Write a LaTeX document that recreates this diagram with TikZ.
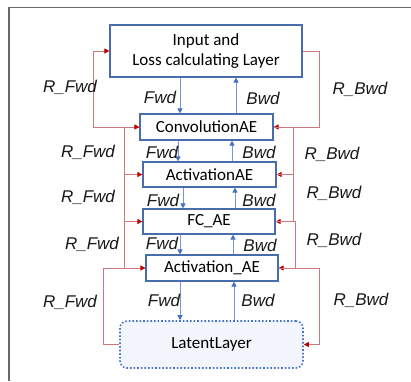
\documentclass[tikz,border=0pt]{standalone}
\usepackage{fontspec}
\setmainfont{Carlito}
\newfontfamily\labfont{Liberation Sans}
\usetikzlibrary{arrows.meta}
\definecolor{boxblue}{RGB}{72,108,172}
\definecolor{redline}{RGB}{204,120,124}
\definecolor{redhead}{RGB}{192,0,0}
\definecolor{blueline}{RGB}{120,150,210}
\definecolor{bluehead}{RGB}{68,114,196}
\definecolor{latfill}{RGB}{242,245,251}
\definecolor{framegray}{RGB}{105,105,105}
\tikzset{
  layer/.style={draw=boxblue,line width=1.2pt,fill=white,inner sep=0pt,font=\fontsize{17}{20}\selectfont,align=center},
  latent/.style={draw=bluehead,line width=1.6pt,dotted,fill=latfill,rounded corners=7pt,inner sep=0pt,font=\fontsize{17}{20}\selectfont},
  fwdarrow/.style={draw=blueline,line width=0.9pt,-{Triangle[length=5pt,width=5pt,color=bluehead]}},
  rarrow/.style={draw=redline,line width=0.9pt,-{Triangle[length=5pt,width=5pt,color=redhead]}},
  rline/.style={draw=redline,line width=0.9pt},
  lab/.style={font=\labfont\itshape\fontsize{17}{20}\selectfont,text=black!90,inner sep=0pt}
}
\begin{document}
\begin{tikzpicture}[x=1pt,y=-1pt]
\useasboundingbox (0,0) rectangle (411,381);
\fill[white] (0,0) rectangle (411,381);
% frame
\draw[framegray,line width=1.4pt] (9,381) -- (9,7.5) -- (411,7.5);
% nodes
\node[layer,minimum width=192pt,minimum height=52pt] (inp) at (206,51) {Input and\\Loss calculating Layer};
\node[layer,minimum width=133pt,minimum height=26pt] (conv) at (206.5,127) {ConvolutionAE};
\node[layer,minimum width=133pt,minimum height=25pt] (act1) at (209.5,174.5) {ActivationAE};
\node[layer,minimum width=132pt,minimum height=25pt] (fc) at (209,221.5) {FC\_AE};
\node[layer,minimum width=132pt,minimum height=26pt] (act2) at (212,268) {Activation\_AE};
\node[latent,minimum width=183pt,minimum height=47pt] (lat) at (211.5,344.5) {LatentLayer};
% guide coordinates
\coordinate (fa) at (180,0); \coordinate (ba) at (236,0);
\coordinate (fb) at (178,0); \coordinate (bb) at (232,0);
\coordinate (fc1) at (183,0); \coordinate (bc) at (235,0);
\coordinate (fd) at (180,0); \coordinate (bd) at (233,0);
\coordinate (fe) at (180,0); \coordinate (be) at (234,0);
\coordinate (L0) at (93,0); \coordinate (L1) at (124.5,0); \coordinate (L2) at (103,0);
\coordinate (R0) at (319,0); \coordinate (R1) at (293,0); \coordinate (R2) at (295,0);
% Fwd / Bwd
\draw[fwdarrow] (inp.south -| fa) -- (conv.north -| fa);
\draw[fwdarrow] (conv.north -| ba) -- (inp.south -| ba);
\draw[fwdarrow] (conv.south -| fb) -- (act1.north -| fb);
\draw[fwdarrow] (act1.north -| bb) -- (conv.south -| bb);
\draw[fwdarrow] (act1.south -| fc1) -- (fc.north -| fc1);
\draw[fwdarrow] (fc.north -| bc) -- (act1.south -| bc);
\draw[fwdarrow] (fc.south -| fd) -- (act2.north -| fd);
\draw[fwdarrow] (act2.north -| bd) -- (fc.south -| bd);
\draw[fwdarrow] (act2.south -| fe) -- (lat.north -| fe);
\draw[fwdarrow] (lat.north -| be) -- (act2.south -| be);
% R_Fwd (left)
\draw[rarrow] (conv.west) -- (conv.west -| L0) |- (inp.west);
\draw[rarrow] (act1.west) -- (act1.west -| L1) |- (conv.west);
\draw[rarrow] (fc.west) -- (fc.west -| L1) |- (act1.west);
\draw[rarrow] (act2.west) -- (act2.west -| L1) |- (fc.west);
\draw[rarrow] (lat.west) -- (lat.west -| L2) |- (act2.west);
% R_Bwd (right)
\draw[rarrow] (inp.east) -- (inp.east -| R0) |- (conv.east);
\draw[rarrow] (conv.east) -- (conv.east -| R1) |- (act1.east);
\draw[rarrow] (act1.east) -- (act1.east -| R1) |- (fc.east);
\draw[rarrow] (fc.east) -- (fc.east -| R2) |- (act2.east);
\draw[rarrow] (act2.east) -- (act2.east -| R0) |- (lat.east);
% labels
\node[lab] (l1) at (70,87) {R\_Fwd};
\node[lab] (l2) at (360,89) {R\_Bwd};
\node[lab] (l3) at (160,97) {Fwd};
\node[lab] (l4) at (263,98) {Bwd};
\node[lab] (l5) at (88,152) {R\_Fwd};
\node[lab] (l6) at (162,152) {Fwd};
\node[lab] (l7) at (259,152) {Bwd};
\node[lab] (l8) at (332,154) {R\_Bwd};
\node[lab] (l9) at (88,197) {R\_Fwd};
\node[lab] (l10) at (163,200) {Fwd};
\node[lab] (l11) at (259,200) {Bwd};
\node[lab] (l12) at (334,193) {R\_Bwd};
\node[lab] (l13) at (92,244) {R\_Fwd};
\node[lab] (l14) at (162,243) {Fwd};
\node[lab] (l15) at (260,245) {Bwd};
\node[lab] (l16) at (334,240) {R\_Bwd};
\node[lab] (l17) at (70,302) {R\_Fwd};
\node[lab] (l18) at (164,300) {Fwd};
\node[lab] (l19) at (258,300) {Bwd};
\node[lab] (l20) at (361,300) {R\_Bwd};
\end{tikzpicture}
\end{document}
